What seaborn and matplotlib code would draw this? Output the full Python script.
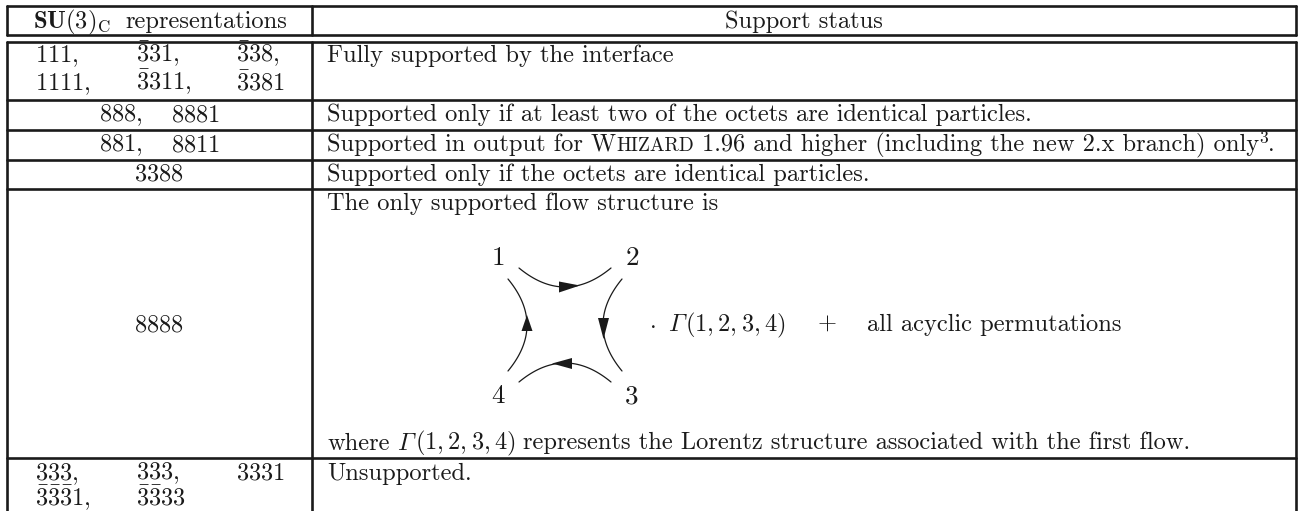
import numpy as np
import pandas as pd
import seaborn as sns
import matplotlib.pyplot as plt

# table contents
header_su = r"$\mathbf{SU}(3)_{\mathrm{C}}$"
header_rep = "representations"
header_status = "Support status"
reps_row1 = [r"$111,$", r"$\bar{3}31,$", r"$\bar{3}38,$"]
reps_row2 = [r"$1111,$", r"$\bar{3}311,$", r"$\bar{3}381$"]
reps_888 = [r"$888,$", r"$8881$"]
reps_881 = [r"$881,$", r"$8811$"]
reps_3388 = r"$\bar{3}388$"
reps_8888 = r"$8888$"
reps_last1 = [r"$333,$", r"$\bar{3}\bar{3}\bar{3},$", r"$3331$"]
reps_last2 = [r"$\bar{3}\bar{3}\bar{3}1,$", r"$\bar{3}\bar{3}33$"]
status_full = "Fully supported by the interface"
status_888 = "Supported only if at least two of the octets are identical particles."
status_3388 = "Supported only if the octets are identical particles."
status_flow = "The only supported flow structure is"
status_none = "Unsupported."
flow_labels = ["1", "2", "3", "4"]

# table layout, pixels
rule_y = [6.5, 35.5, 42, 100, 130, 160, 189, 458]
col_x = [7, 311.5, 1296]
col3_x = [35, 135.5, 236]
FS = 17.6
PAD = 327

sns.set_theme(style="white")
plt.rcParams["font.family"] = ["cmr10"]
plt.rcParams["mathtext.fontset"] = "cm"
plt.rcParams["axes.formatter.use_mathtext"] = True

fig = plt.figure(figsize=(12.98, 5.11), dpi=100)
ax = fig.add_axes([0, 0, 1, 1])


def put(x, y, s, size=FS, ha="left", family=None):
    kw = {"family": family} if family else {}
    return ax.text(x, y, s, fontsize=size, ha=ha, va="baseline", color="k", **kw)


def run(x, y, parts):
    # parts placed one after another: (text, size, raise, gap after, family)
    for s, size, up, gap, family in parts:
        t = put(x, y - up, s, size=size, family=family)
        x = ax.transData.inverted().transform(
            (t.get_window_extent(fig.canvas.get_renderer()).x1, 0))[0] + gap


# rules of the table
rules = []
for i, y in enumerate(rule_y):
    rules.append(pd.DataFrame({"x": [col_x[0], col_x[2]], "y": [y, y], "rule": f"h{i}"}))
for i, x in enumerate(col_x):
    rules.append(pd.DataFrame({"x": [x, x], "y": [rule_y[0], rule_y[1]], "rule": f"a{i}"}))
    rules.append(pd.DataFrame({"x": [x, x], "y": [rule_y[2], 512], "rule": f"b{i}"}))
sns.lineplot(data=pd.concat(rules), x="x", y="y", units="rule", estimator=None, sort=False,
             color="k", linewidth=1.9, legend=False, ax=ax)

# colour flow diagram: four curved lines with arrowheads
arc_ends = [((519, 268), (565, 287), (611, 268)),
            ((622, 279), (603, 325), (622, 371)),
            ((611, 382), (565, 363), (519, 382)),
            ((508, 371), (527, 325), (508, 279))]
heads = [[(580, 285.5), (559, 281.5), (559, 292.5)],
         [(603.5, 339), (598, 318), (609, 318)],
         [(552, 363.5), (572, 358), (572, 369)],
         [(527, 315), (521.5, 331), (532.5, 331)]]
arcs = []
s = np.linspace(0, 1, 40)
for i, (a, m, b) in enumerate(arc_ends):
    a, m, b = np.array(a), np.array(m), np.array(b)
    c = 2 * m - (a + b) / 2
    pts = np.outer((1 - s) ** 2, a) + np.outer(2 * s * (1 - s), c) + np.outer(s ** 2, b)
    arcs.append(pd.DataFrame({"x": pts[:, 0], "y": pts[:, 1], "arc": i}))
sns.lineplot(data=pd.concat(arcs), x="x", y="y", units="arc", estimator=None, sort=False,
             color="k", linewidth=0.9, legend=False, ax=ax)
for h in heads:
    ax.fill(*zip(*h), color="k", lw=0)

ax.set_xlim(0, 1298)
ax.set_ylim(511, 0)
ax.axis("off")
fig.canvas.draw()

# header
put(33, 28, header_su)
put(125, 28, header_rep)
put(804, 28, header_status, ha="center")

# left column
for x, s in zip(col3_x, reps_row1):
    put(x, 62, s)
for x, s in zip(col3_x, reps_row2):
    put(x, 90.5, s)
for x, s in zip([99, 171], reps_888):
    put(x, 121, s)
for x, s in zip([99, 171], reps_881):
    put(x, 151, s)
put(159, 181, reps_3388, ha="center")
put(159, 331, reps_8888, ha="center")
for x, s in zip(col3_x, reps_last1):
    put(x, 480, s)
for x, s in zip(col3_x, reps_last2):
    put(x, 506, s)

# right column
put(PAD, 62, status_full)
put(PAD, 121, status_888)
run(PAD, 151, [("Supported in output for W", FS, 0, 0, None),
               ("HIZARD", FS * 0.8, 0, 8, None),
               ("1.96 and higher (including the new 2.x branch) only", FS, 0, 0, None),
               ("3", FS * 0.72, 8, 0, None),
               (".", FS, 0, 0, None)])
put(PAD, 181, status_3388)
put(PAD, 210, status_flow)
run(PAD, 449.5, [("where", FS, 0, 8, None),
                 ("\u00a1", FS, 0, 2, "cmmi10"),
                 (r"$(1,2,3,4)$", FS, 0, 8, None),
                 ("represents the Lorentz structure associated with the first flow.", FS, 0, 0, None)])
put(PAD, 480, status_none)

# diagram labels and the formula next to it
for (x, y), s in zip([(498, 265), (632, 265), (632, 403), (498, 403)], flow_labels):
    put(x, y, s, size=19.5, ha="center")
put(652, 331, r"$\cdot$", ha="center")
run(668, 331, [("\u00a1", FS, 0, 2, "cmmi10"), (r"$(1,2,3,4)$", FS, 0, 0, None)])
put(827, 331, "+", ha="center")
put(867, 331, "all acyclic permutations")

fig.savefig("out.png", dpi=100)
